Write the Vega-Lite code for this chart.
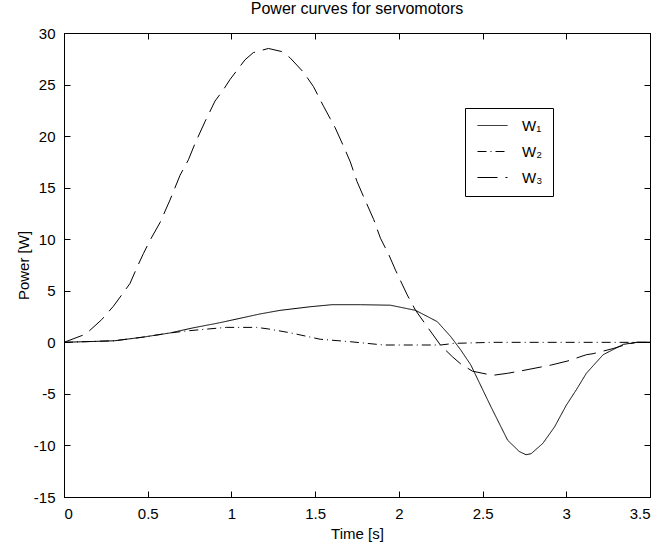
{
  "$schema": "https://vega.github.io/schema/vega-lite/v6.json",
  "width": 586,
  "height": 464,
  "autosize": "none",
  "padding": {"left": 64, "top": 33, "right": 15, "bottom": 53},
  "background": "white",
  "title": {"text": "Power curves for servomotors", "font": "Liberation Sans", "fontSize": 16, "fontWeight": "normal", "color": "black", "offset": 9, "anchor": "middle"},
  "config": {
    "view": {"stroke": "black", "strokeWidth": 1},
    "axis": {"grid": false, "domainColor": "black", "tickColor": "black", "tickSize": -6, "labelFont": "Liberation Sans", "labelFontSize": 15, "labelColor": "black", "titleFont": "Liberation Sans", "titleFontSize": 15, "titleFontWeight": "normal", "titleColor": "black", "labelPadding": 15},
    "legend": {"orient": "none", "legendX": 401, "legendY": 75, "symbolType": "M-1,0H5", "symbolSize": 100, "symbolStrokeColor": "black", "symbolStrokeWidth": 1, "labelFont": "Liberation Sans", "labelFontSize": 15, "labelColor": "black", "strokeColor": "black", "fillColor": "white", "padding": 10, "rowPadding": 10, "labelOffset": 32}
  },
  "data": {"values": [
    {"t": 0, "p": 0, "s": "W₁"},
    {"t": 0.3, "p": 0.15, "s": "W₁"},
    {"t": 0.47, "p": 0.5, "s": "W₁"},
    {"t": 0.63, "p": 0.9, "s": "W₁"},
    {"t": 0.77, "p": 1.4, "s": "W₁"},
    {"t": 0.93, "p": 1.9, "s": "W₁"},
    {"t": 1.17, "p": 2.75, "s": "W₁"},
    {"t": 1.29, "p": 3.1, "s": "W₁"},
    {"t": 1.47, "p": 3.45, "s": "W₁"},
    {"t": 1.6, "p": 3.65, "s": "W₁"},
    {"t": 1.77, "p": 3.65, "s": "W₁"},
    {"t": 1.95, "p": 3.6, "s": "W₁"},
    {"t": 2.1, "p": 3.1, "s": "W₁"},
    {"t": 2.23, "p": 2.0, "s": "W₁"},
    {"t": 2.31, "p": 0.55, "s": "W₁"},
    {"t": 2.37, "p": -0.75, "s": "W₁"},
    {"t": 2.43, "p": -2.2, "s": "W₁"},
    {"t": 2.55, "p": -6.25, "s": "W₁"},
    {"t": 2.65, "p": -9.5, "s": "W₁"},
    {"t": 2.72, "p": -10.6, "s": "W₁"},
    {"t": 2.76, "p": -10.9, "s": "W₁"},
    {"t": 2.79, "p": -10.8, "s": "W₁"},
    {"t": 2.86, "p": -9.8, "s": "W₁"},
    {"t": 2.93, "p": -8.2, "s": "W₁"},
    {"t": 3.0, "p": -6.1, "s": "W₁"},
    {"t": 3.06, "p": -4.6, "s": "W₁"},
    {"t": 3.12, "p": -3.0, "s": "W₁"},
    {"t": 3.22, "p": -1.2, "s": "W₁"},
    {"t": 3.34, "p": -0.2, "s": "W₁"},
    {"t": 3.42, "p": 0, "s": "W₁"},
    {"t": 3.5, "p": 0, "s": "W₁"},
    {"t": 0, "p": 0, "s": "W₂"},
    {"t": 0.3, "p": 0.15, "s": "W₂"},
    {"t": 0.47, "p": 0.5, "s": "W₂"},
    {"t": 0.63, "p": 0.9, "s": "W₂"},
    {"t": 0.73, "p": 1.1, "s": "W₂"},
    {"t": 0.83, "p": 1.25, "s": "W₂"},
    {"t": 0.97, "p": 1.45, "s": "W₂"},
    {"t": 1.15, "p": 1.45, "s": "W₂"},
    {"t": 1.22, "p": 1.3, "s": "W₂"},
    {"t": 1.35, "p": 0.93, "s": "W₂"},
    {"t": 1.53, "p": 0.3, "s": "W₂"},
    {"t": 1.71, "p": 0.06, "s": "W₂"},
    {"t": 1.81, "p": -0.1, "s": "W₂"},
    {"t": 1.91, "p": -0.26, "s": "W₂"},
    {"t": 2.25, "p": -0.26, "s": "W₂"},
    {"t": 2.33, "p": -0.1, "s": "W₂"},
    {"t": 2.56, "p": 0, "s": "W₂"},
    {"t": 3.5, "p": 0, "s": "W₂"},
    {"t": 0, "p": 0, "s": "W₃"},
    {"t": 0.13, "p": 0.8, "s": "W₃"},
    {"t": 0.225, "p": 2.2, "s": "W₃"},
    {"t": 0.295, "p": 3.5, "s": "W₃"},
    {"t": 0.394, "p": 5.7, "s": "W₃"},
    {"t": 0.434, "p": 7.2, "s": "W₃"},
    {"t": 0.474, "p": 8.6, "s": "W₃"},
    {"t": 0.514, "p": 9.9, "s": "W₃"},
    {"t": 0.573, "p": 11.6, "s": "W₃"},
    {"t": 0.633, "p": 13.8, "s": "W₃"},
    {"t": 0.693, "p": 16.2, "s": "W₃"},
    {"t": 0.743, "p": 17.7, "s": "W₃"},
    {"t": 0.783, "p": 19.3, "s": "W₃"},
    {"t": 0.842, "p": 21.4, "s": "W₃"},
    {"t": 0.902, "p": 23.4, "s": "W₃"},
    {"t": 0.952, "p": 24.5, "s": "W₃"},
    {"t": 0.992, "p": 25.5, "s": "W₃"},
    {"t": 1.081, "p": 27.4, "s": "W₃"},
    {"t": 1.131, "p": 28.1, "s": "W₃"},
    {"t": 1.221, "p": 28.5, "s": "W₃"},
    {"t": 1.3, "p": 28.2, "s": "W₃"},
    {"t": 1.35, "p": 27.6, "s": "W₃"},
    {"t": 1.43, "p": 26.2, "s": "W₃"},
    {"t": 1.49, "p": 24.8, "s": "W₃"},
    {"t": 1.55, "p": 22.9, "s": "W₃"},
    {"t": 1.59, "p": 21.7, "s": "W₃"},
    {"t": 1.62, "p": 20.8, "s": "W₃"},
    {"t": 1.67, "p": 19.0, "s": "W₃"},
    {"t": 1.71, "p": 17.5, "s": "W₃"},
    {"t": 1.75, "p": 15.6, "s": "W₃"},
    {"t": 1.79, "p": 14.1, "s": "W₃"},
    {"t": 1.85, "p": 11.9, "s": "W₃"},
    {"t": 1.89, "p": 10.1, "s": "W₃"},
    {"t": 1.94, "p": 8.5, "s": "W₃"},
    {"t": 1.98, "p": 7.0, "s": "W₃"},
    {"t": 2.05, "p": 4.6, "s": "W₃"},
    {"t": 2.1, "p": 3.1, "s": "W₃"},
    {"t": 2.17, "p": 1.5, "s": "W₃"},
    {"t": 2.25, "p": -0.3, "s": "W₃"},
    {"t": 2.32, "p": -1.4, "s": "W₃"},
    {"t": 2.37, "p": -2.1, "s": "W₃"},
    {"t": 2.44, "p": -2.8, "s": "W₃"},
    {"t": 2.56, "p": -3.2, "s": "W₃"},
    {"t": 2.65, "p": -3.0, "s": "W₃"},
    {"t": 2.72, "p": -2.8, "s": "W₃"},
    {"t": 2.91, "p": -2.2, "s": "W₃"},
    {"t": 3.01, "p": -1.8, "s": "W₃"},
    {"t": 3.12, "p": -1.2, "s": "W₃"},
    {"t": 3.16, "p": -1.1, "s": "W₃"},
    {"t": 3.28, "p": -0.6, "s": "W₃"},
    {"t": 3.36, "p": -0.2, "s": "W₃"},
    {"t": 3.42, "p": 0, "s": "W₃"},
    {"t": 3.5, "p": 0, "s": "W₃"}
  ]},
  "layer": [
    {
      "mark": {"type": "line", "color": "black", "strokeWidth": 1, "clip": true},
      "encoding": {
        "x": {"field": "t", "type": "quantitative", "scale": {"domain": [0, 3.5], "nice": false, "zero": false},
              "axis": {"title": "Time [s]", "values": [0, 0.5, 1, 1.5, 2, 2.5, 3, 3.5], "labelExpr": "'' + datum.value", "titlePadding": 5}},
        "y": {"field": "p", "type": "quantitative", "scale": {"domain": [-15, 30], "nice": false, "zero": false},
              "axis": {"title": "Power [W]", "values": [-15, -10, -5, 0, 5, 10, 15, 20, 25, 30], "labelExpr": "'' + datum.value", "titlePadding": 2}},
        "strokeDash": {"field": "s", "type": "nominal",
                       "scale": {"domain": ["W₁", "W₂", "W₃"], "range": [[1, 0], [9, 4, 1, 4], [20, 8]]},
                       "legend": {"title": null, "labelExpr": "datum.label + '  '"}},
        "order": {"field": "t", "type": "quantitative"}
      }
    },
    {
      "mark": {"type": "line", "opacity": 0},
      "encoding": {
        "x": {"field": "t", "type": "quantitative", "scale": {"domain": [0, 3.5], "nice": false, "zero": false},
              "axis": {"orient": "top", "title": null, "labels": false, "values": [0, 0.5, 1, 1.5, 2, 2.5, 3, 3.5]}},
        "y": {"field": "p", "type": "quantitative", "scale": {"domain": [-15, 30], "nice": false, "zero": false},
              "axis": {"orient": "right", "title": null, "labels": false, "values": [-15, -10, -5, 0, 5, 10, 15, 20, 25, 30]}},
        "detail": {"field": "s", "type": "nominal"}
      }
    }
  ],
  "resolve": {"scale": {"x": "independent", "y": "independent"}}
}
